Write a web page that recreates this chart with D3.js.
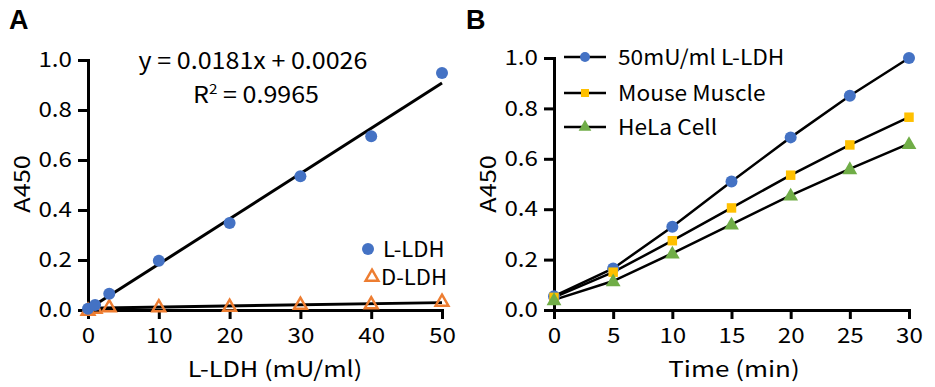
<!DOCTYPE html>
<html>
<head>
<meta charset="utf-8">
<script src="https://cdn.jsdelivr.net/npm/d3@7"></script>
<style>
  body { margin: 0; background: #fff; }
  text { font-family: "Noto Sans CJK JP", "Noto Sans", sans-serif; fill: #000; }
</style>
</head>
<body>
<svg width="935" height="387"></svg>
<script>
// Panel A data
var concA = [0, 1, 3, 10, 20, 30, 40, 50];
var lLdh = [0.005, 0.02, 0.065, 0.197, 0.348, 0.535, 0.695, 0.948];
var dLdh = [-0.004, 0.004, 0.01, 0.01, 0.012, 0.02, 0.022, 0.032];
var lTrend = [0.0181, 0.0026];   // slope, intercept
var dTrend = [0.00045, 0.007];
var ticksAx = [0, 10, 20, 30, 40, 50];
var ticksAy = [0, 0.2, 0.4, 0.6, 0.8, 1.0];

// Panel B data
var timeB = [0, 5, 10, 15, 20, 25, 30];
var std50 = [0.055, 0.165, 0.33, 0.51, 0.685, 0.85, 1.0];
var mouse = [0.05, 0.15, 0.275, 0.405, 0.535, 0.655, 0.765];
var hela = [0.04, 0.115, 0.225, 0.34, 0.455, 0.56, 0.66];
var seriesNames = ["50mU/ml L-LDH", "Mouse Muscle", "HeLa Cell"];
var ticksBx = [0, 5, 10, 15, 20, 25, 30];

var blue = "#4472C4", orange = "#ED7D31", yellow = "#FFC000", green = "#70AD47";

var svg = d3.select("svg");

// text is a bit wider in the original, so stretch it horizontally
function txt(x, y, size, str, anchor, sx, rot) {
    return svg.append("text")
        .attr("transform", "translate(" + x + "," + y + ")" + (rot ? " rotate(" + rot + ")" : "") + " scale(" + sx + ",1)")
        .attr("text-anchor", anchor || "start")
        .style("font-size", size + "px")
        .text(str);
}

function drawAxes(g, x, y, xt, yt) {
    var ax = g.append("g").attr("transform", "translate(0," + y(0) + ")")
        .call(d3.axisBottom(x).tickValues(xt).tickSize(9).tickPadding(9).tickFormat(d3.format("d")));
    var ay = g.append("g").attr("transform", "translate(" + x(0) + ",0)")
        .call(d3.axisLeft(y).tickValues(yt).tickSize(10).tickPadding(4).tickFormat(d3.format(".1f")));
    [ax, ay].forEach(function (a) {
        a.select(".domain").attr("stroke", "#000").attr("stroke-width", 3);
        a.selectAll(".tick line").attr("stroke", "#000").attr("stroke-width", 3);
        a.selectAll(".tick text").style("font-size", "21px").attr("fill", "#000")
            .attr("transform", "scale(1.15,1)");
    });
}

// ---------- Panel A ----------
var xA = d3.scaleLinear().domain([0, 50]).range([88, 442]);
var yA = d3.scaleLinear().domain([0, 1]).range([310, 60]);

txt(9, 29, 27, "A", "start", 1)
    .style("font-weight", "bold").style("font-family", "'Liberation Sans', Arial, sans-serif");

var gA = svg.append("g");

// trend lines
gA.append("line")
    .attr("x1", xA(0)).attr("y1", yA(lTrend[1]))
    .attr("x2", xA(50)).attr("y2", yA(lTrend[0] * 50 + lTrend[1]))
    .attr("stroke", "#000").attr("stroke-width", 3);
gA.append("line")
    .attr("x1", xA(0)).attr("y1", yA(dTrend[1]))
    .attr("x2", xA(50)).attr("y2", yA(dTrend[0] * 50 + dTrend[1]))
    .attr("stroke", "#000").attr("stroke-width", 3);

drawAxes(gA, xA, yA, ticksAx, ticksAy);

var tri = d3.symbol().type(d3.symbolTriangle).size(70);

gA.selectAll(".dpt").data(concA).enter().append("path")
    .attr("d", tri)
    .attr("transform", function (d, i) { return "translate(" + xA(d) + "," + yA(dLdh[i]) + ")"; })
    .attr("fill", "none").attr("stroke", orange).attr("stroke-width", 2.5);

gA.selectAll(".lpt").data(concA).enter().append("circle")
    .attr("cx", function (d) { return xA(d); })
    .attr("cy", function (d, i) { return yA(lLdh[i]); })
    .attr("r", 6).attr("fill", blue);

// equation + R2
txt(253, 69, 23, "y = 0.0181x + 0.0026", "middle", 1.09);
var r2 = txt(256, 103, 23, "", "middle", 1.09);
r2.append("tspan").text("R");
r2.append("tspan").attr("dy", -9).style("font-size", "14px").text("2");
r2.append("tspan").attr("dy", 9).text(" = 0.9965");

// legend A
svg.append("circle").attr("cx", 368).attr("cy", 249).attr("r", 6).attr("fill", blue);
txt(383, 257, 21, "L-LDH", "start", 1.05);
svg.append("path").attr("d", tri).attr("transform", "translate(372,277)")
    .attr("fill", "none").attr("stroke", orange).attr("stroke-width", 2.5);
txt(381, 285, 21, "D-LDH", "start", 1.05);

txt(275, 377, 22, "L-LDH (mU/ml)", "middle", 1.15);
txt(30, 184, 22, "A450", "middle", 1.15, -90);

// ---------- Panel B ----------
var xB = d3.scaleLinear().domain([0, 30]).range([554, 909]);
var yB = d3.scaleLinear().domain([0, 1]).range([310, 58]);

txt(466, 29, 27, "B", "start", 1)
    .style("font-weight", "bold").style("font-family", "'Liberation Sans', Arial, sans-serif");

var gB = svg.append("g");
drawAxes(gB, xB, yB, ticksBx, ticksAy);

var line = d3.line().x(function (d, i) { return xB(timeB[i]); }).y(function (d) { return yB(d); });
var allB = [hela, mouse, std50];
gB.selectAll(".sl").data(allB).enter().append("path")
    .attr("d", line).attr("fill", "none").attr("stroke", "#000").attr("stroke-width", 2.5);

var sq = d3.symbol().type(d3.symbolSquare).size(90);
var triB = d3.symbol().type(d3.symbolTriangle).size(95);

gB.selectAll(".m1").data(std50).enter().append("circle")
    .attr("cx", function (d, i) { return xB(timeB[i]); })
    .attr("cy", function (d) { return yB(d); }).attr("r", 6).attr("fill", blue);
gB.selectAll(".m2").data(mouse).enter().append("path")
    .attr("d", sq).attr("fill", yellow)
    .attr("transform", function (d, i) { return "translate(" + xB(timeB[i]) + "," + yB(d) + ")"; });
gB.selectAll(".m3").data(hela).enter().append("path")
    .attr("d", triB).attr("fill", green)
    .attr("transform", function (d, i) { return "translate(" + xB(timeB[i]) + "," + (yB(d) + 1) + ")"; });

// legend B
var legY = [57, 93, 127];
var legSym = [
    function (g) { g.append("circle").attr("r", 5).attr("fill", blue); },
    function (g) { g.append("path").attr("d", d3.symbol().type(d3.symbolSquare).size(64)).attr("fill", yellow); },
    function (g) { g.append("path").attr("d", d3.symbol().type(d3.symbolTriangle).size(70)).attr("fill", green); }
];
seriesNames.forEach(function (n, i) {
    svg.append("line").attr("x1", 564).attr("x2", 606).attr("y1", legY[i]).attr("y2", legY[i])
        .attr("stroke", "#000").attr("stroke-width", 2.5);
    legSym[i](svg.append("g").attr("transform", "translate(585," + legY[i] + ")"));
    txt(618, legY[i] + 8, 21, n, "start", 1.08);
});

txt(734, 377, 22, "Time (min)", "middle", 1.18);
txt(496, 184, 22, "A450", "middle", 1.15, -90);
</script>
</body>
</html>
